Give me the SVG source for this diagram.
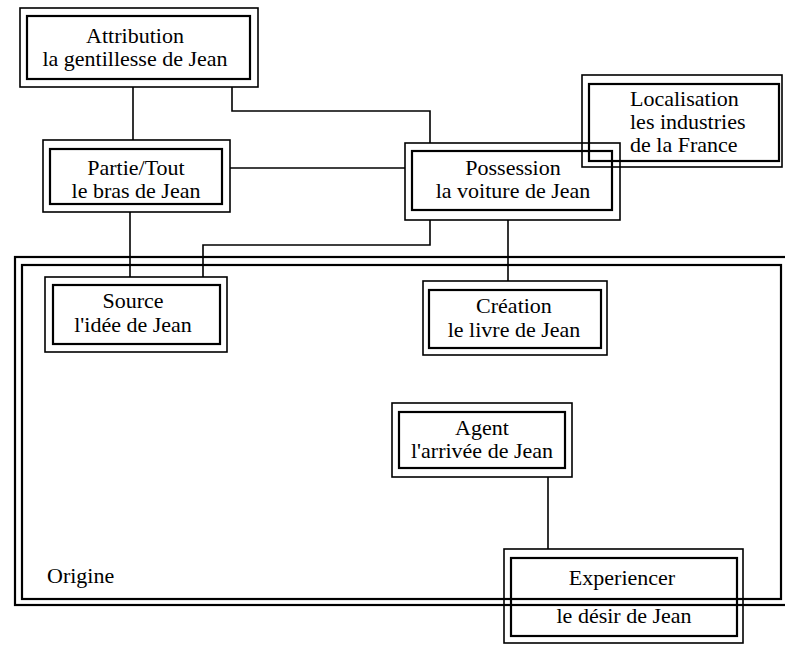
<svg xmlns="http://www.w3.org/2000/svg" width="785" height="653" viewBox="0 0 785 653">
<style>
.o{fill:none;stroke:#000;stroke-width:1.6}
.i{fill:none;stroke:#000;stroke-width:2.2}
.c{fill:none;stroke:#000;stroke-width:1.6}
text{font-family:"Liberation Serif","Times New Roman",serif;font-size:22px;fill:#000;text-anchor:middle}
</style>
<rect width="785" height="653" fill="#fff"/>
<g id="origine">
<rect class="i" x="15" y="257" width="775" height="348"/>
<rect class="i" x="22" y="265" width="759" height="334"/>
<text x="47" y="583" style="text-anchor:start">Origine</text>
</g>
<g id="connectors">
<polyline class="c" points="133,87 133,140"/>
<polyline class="c" points="232,87 232,111 430,111 430,143"/>
<polyline class="c" points="230,168 405,168"/>
<polyline class="c" points="130,212 130,277"/>
<polyline class="c" points="430,220 430,245 203,245 203,277"/>
<polyline class="c" points="508,220 508,281"/>
<polyline class="c" points="548,477 548,549"/>
</g>
<g id="attribution">
<rect class="o" x="20" y="8" width="238" height="79"/>
<rect class="i" x="27" y="16" width="223" height="63"/>
<text x="135" y="43">Attribution</text>
<text x="135" y="66">la gentillesse de Jean</text>
</g>
<g id="partie">
<rect class="o" x="43" y="140" width="187" height="72"/>
<rect class="i" x="50" y="149" width="172" height="55"/>
<text x="136" y="175">Partie/Tout</text>
<text x="136" y="198">le bras de Jean</text>
</g>
<g id="possession">
<rect class="o" x="405" y="143" width="215" height="77"/>
<rect class="i" x="412" y="151" width="200" height="59"/>
<text x="513" y="175">Possession</text>
<text x="513" y="198">la voiture de Jean</text>
</g>
<g id="localisation">
<rect class="o" x="582" y="75" width="200" height="92"/>
<rect class="i" x="589" y="84" width="190" height="77"/>
<text x="630" y="106" style="text-anchor:start">Localisation</text>
<text x="630" y="129" style="text-anchor:start">les industries</text>
<text x="630" y="152" style="text-anchor:start">de la France</text>
</g>
<g id="source">
<rect class="o" x="45" y="277" width="182" height="75"/>
<rect class="i" x="53" y="285" width="167" height="59"/>
<text x="133" y="308">Source</text>
<text x="133" y="332">l'idée de Jean</text>
</g>
<g id="creation">
<rect class="o" x="423" y="281" width="184" height="74"/>
<rect class="i" x="429" y="290" width="172" height="58"/>
<text x="514" y="313">Création</text>
<text x="514" y="337">le livre de Jean</text>
</g>
<g id="agent">
<rect class="o" x="392" y="403" width="180" height="74"/>
<rect class="i" x="399" y="412" width="166" height="56"/>
<text x="482" y="435">Agent</text>
<text x="482" y="458">l'arrivée de Jean</text>
</g>
<g id="experiencer">
<rect class="o" x="504" y="549" width="239" height="94"/>
<rect class="i" x="511" y="558" width="226" height="78"/>
<text x="622" y="585">Experiencer</text>
<text x="624" y="623">le désir de Jean</text>
</g>
</svg>
